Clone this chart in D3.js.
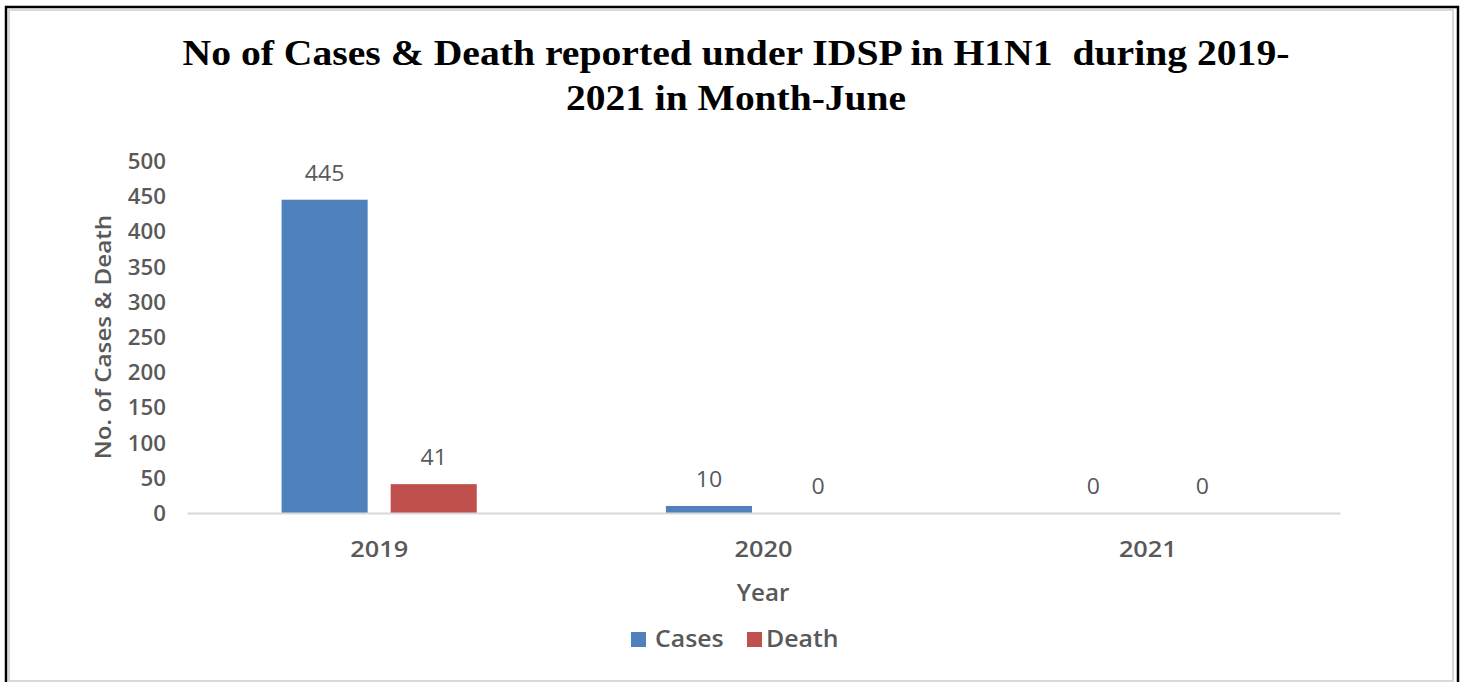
<!DOCTYPE html>
<html>
<head>
<meta charset="utf-8">
<script src="https://cdn.jsdelivr.net/npm/d3@7/dist/d3.min.js"></script>
<style>
  html, body { margin: 0; padding: 0; background: #fff; }
  svg { display: block; }
</style>
</head>
<body>
<svg id="chart" width="1464" height="682"></svg>
<script>
const categories = ["2019", "2020", "2021"];
const seriesNames = ["Cases", "Death"];
const casesValues = [445, 10, 0];
const deathValues = [41, 0, 0];
const yTicks = [0, 50, 100, 150, 200, 250, 300, 350, 400, 450, 500];
const titleLines = ["No of Cases & Death reported under IDSP in H1N1  during 2019-", "2021 in Month-June"];
const yAxisTitle = "No. of Cases & Death";
const xAxisTitle = "Year";

const colors = { Cases: "#4F81BD", Death: "#C0504D" };
const textGray = "#595959";
const sans = "'Open Sans', 'Noto Sans', sans-serif";

const svg = d3.select("#chart");

// horizontally stretch a text selection by a factor (reference glyphs are wide)
function stretch(sel, k) {
  sel.each(function() {
    const len = this.getComputedTextLength();
    d3.select(this).attr("textLength", len * k).attr("lengthAdjust", "spacingAndGlyphs");
  });
}

// frame
svg.append("rect").attr("x", 9).attr("y", 10).attr("width", 1444).attr("height", 671)
  .attr("fill", "#fff").attr("stroke", "#d9d9d9").attr("stroke-width", 2);
svg.append("path").attr("d", "M6,690 V7 H1458 V690")
  .attr("fill", "none").attr("stroke", "#000").attr("stroke-width", 2.5);

// title
const titleWidths = [1107, 340];
titleLines.forEach((t, i) => {
  svg.append("text").attr("text-anchor", "middle")
    .attr("x", 736).attr("y", 65 + i * 45)
    .attr("font-family", "'Liberation Serif', 'Times New Roman', serif")
    .attr("font-weight", "bold").attr("font-size", 36).attr("fill", "#000")
    .style("white-space", "pre")
    .attr("textLength", titleWidths[i]).attr("lengthAdjust", "spacingAndGlyphs")
    .text(t);
});

// scales
const x0 = d3.scaleBand().domain(categories).range([187, 1340]).paddingInner(0).paddingOuter(0);
const x1 = d3.scaleBand().domain(seriesNames).range([0, x0.bandwidth()])
  .paddingInner(0.211).paddingOuter(0.867);
const y = d3.scaleLinear().domain([0, 500]).range([513, 161]);

// y axis tick labels
const yAxis = d3.axisLeft(y).tickValues(yTicks).tickSize(0).tickPadding(0);
const yg = svg.append("g").attr("transform", "translate(166,0)").call(yAxis);
yg.select(".domain").remove();
yg.selectAll("text").attr("font-family", sans).attr("font-weight", 600)
  .attr("font-size", 21).attr("fill", textGray).attr("dy", "0.36em");
stretch(yg.selectAll("text"), 1.06);

// bars
const data = categories.map((c, i) => ({ cat: c, values: [
  { key: "Cases", value: casesValues[i] },
  { key: "Death", value: deathValues[i] }
]}));

const groups = svg.append("g").selectAll("g").data(data).join("g")
  .attr("transform", d => `translate(${x0(d.cat)},0)`);

groups.selectAll("rect").data(d => d.values).join("rect")
  .attr("x", d => x1(d.key)).attr("width", x1.bandwidth())
  .attr("y", d => y(d.value)).attr("height", d => y(0) - y(d.value))
  .attr("fill", d => colors[d.key]);

const lbls = groups.selectAll("text.lbl").data(d => d.values).join("text").attr("class", "lbl")
  .attr("x", d => x1(d.key) + x1.bandwidth() / 2)
  .attr("y", d => y(d.value) - 19)
  .attr("text-anchor", "middle").attr("font-family", sans).attr("font-size", 21)
  .attr("fill", textGray).text(d => d.value);
stretch(lbls, 1.1);

// baseline axis
const xAxis = d3.axisBottom(x0).tickSize(0).tickPadding(0);
const xg = svg.append("g").attr("transform", `translate(0,${y(0)})`).call(xAxis);
xg.select(".domain").attr("stroke", "#d9d9d9").attr("stroke-width", 2);
xg.selectAll("text").attr("font-family", sans).attr("font-weight", 600)
  .attr("font-size", 22).attr("fill", textGray).attr("dy", 0).attr("y", 44);
stretch(xg.selectAll("text"), 1.15);

// axis titles
const yt = svg.append("text").attr("transform", "translate(111,337) rotate(-90)")
  .attr("text-anchor", "middle").attr("font-family", sans).attr("font-weight", 600)
  .attr("font-size", 22).attr("fill", textGray).text(yAxisTitle);
stretch(yt, 1.1);
const xt = svg.append("text").attr("x", 763).attr("y", 601).attr("text-anchor", "middle")
  .attr("font-family", sans).attr("font-weight", 600).attr("font-size", 23)
  .attr("fill", textGray).text(xAxisTitle);
stretch(xt, 1.05);

// legend
const legendX = [631, 747];
const lg = svg.append("g").selectAll("g").data(seriesNames).join("g")
  .attr("transform", (d, i) => `translate(${legendX[i]},632)`);
lg.append("rect").attr("width", 15).attr("height", 15).attr("fill", d => colors[d]);
const lt = lg.append("text").attr("x", (d, i) => i === 0 ? 24 : 19).attr("y", 15)
  .attr("font-family", sans).attr("font-weight", 600).attr("font-size", 23)
  .attr("fill", textGray).text(d => d);
stretch(lt, 1.08);
</script>
</body>
</html>
